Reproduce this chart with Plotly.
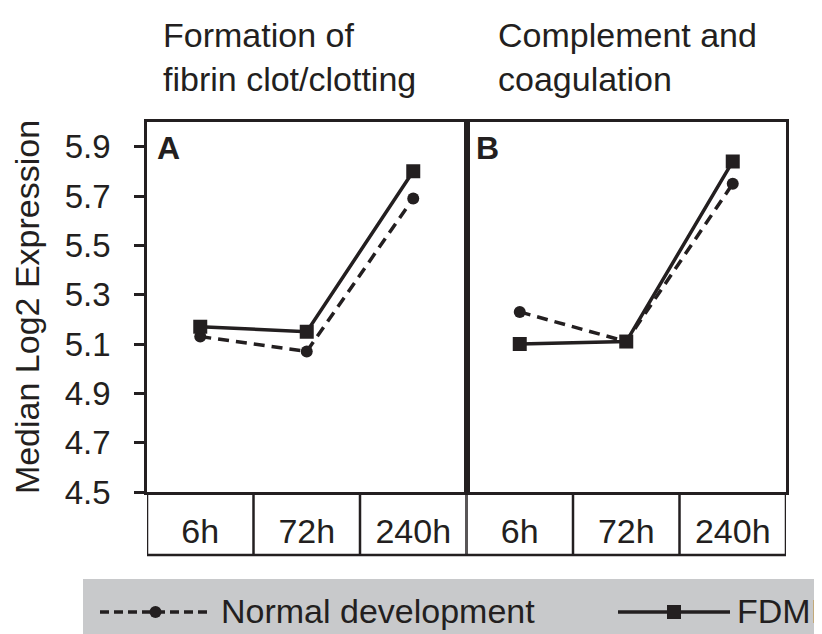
import plotly.graph_objects as go

# ---- data ----
times = ["6h", "72h", "240h"]
panel_labels = ["A", "B"]
panel_titles = ["Formation of<br>fibrin clot/clotting", "Complement and<br>coagulation"]
series_names = ["Normal development", "FDMI"]
normal_A = [5.13, 5.07, 5.69]
fdmi_A = [5.17, 5.15, 5.80]
normal_B = [5.23, 5.11, 5.75]
fdmi_B = [5.10, 5.11, 5.84]
y_ticks = [4.5, 4.7, 4.9, 5.1, 5.3, 5.5, 5.7, 5.9]
y_range = [4.5, 6.0]

INK = "#231f20"
FONT = "Liberation Sans, Arial, sans-serif"
W, H = 822, 634
L, R, T, B = 139, 778, 114, 484
FS = 34


def px_x(px):
    return (px - L) / (R - L)


def px_y(py):
    return (B - py) / (B - T)


fig = go.Figure()

panels = [("x", "y", normal_A, fdmi_A), ("x2", "y2", normal_B, fdmi_B)]
for i, (xa, ya, nv, fv) in enumerate(panels):
    fig.add_trace(go.Scatter(
        x=times, y=nv, xaxis=xa, yaxis=ya, mode="lines+markers",
        name=series_names[0], showlegend=False,
        line=dict(color=INK, width=3.5, dash="11px,7px"),
        marker=dict(symbol="circle", size=12, color=INK),
    ))
    fig.add_trace(go.Scatter(
        x=times, y=fv, xaxis=xa, yaxis=ya, mode="lines+markers",
        name=series_names[1], showlegend=False,
        line=dict(color=INK, width=3.5),
        marker=dict(symbol="square", size=14, color=INK),
    ))

xaxis_common = dict(
    type="category", range=[-0.5, len(times) - 0.5],
    showline=True, mirror=True, linecolor=INK, linewidth=2.5,
    showgrid=False, zeroline=False, ticks="",
    tickfont=dict(family=FONT, size=FS, color=INK),
    ticklabelstandoff=7,
    fixedrange=True,
)
yaxis_common = dict(
    range=y_range, tickvals=y_ticks, ticktext=[f"{v:.1f}" for v in y_ticks],
    showline=True, mirror=True, linecolor=INK, linewidth=2.5,
    showgrid=False, zeroline=False,
    fixedrange=True,
)

fig.update_layout(
    width=W, height=H,
    margin=dict(l=L, r=W - R, t=T, b=H - B),
    paper_bgcolor="white", plot_bgcolor="white",
    showlegend=False,
    xaxis=dict(domain=[0, 0.5], anchor="y", **xaxis_common),
    xaxis2=dict(domain=[0.5, 1], anchor="y2", **xaxis_common),
    yaxis=dict(
        domain=[0, 1], anchor="x",
        ticks="outside", ticklen=10, tickwidth=2.5, tickcolor=INK,
        tickfont=dict(family=FONT, size=33, color=INK),
        ticklabelstandoff=17,
        title=dict(text="Median Log2 Expression",
                   font=dict(family=FONT, size=FS, color=INK), standoff=16),
        **yaxis_common,
    ),
    yaxis2=dict(domain=[0, 1], anchor="x2", matches="y", showticklabels=False,
                ticks="", **yaxis_common),
)

shapes = []
box_bottom = px_y(547)
for xr in ["x", "x2"]:
    for k in range(len(times) + 1):
        shapes.append(dict(type="line", xref=xr, yref="paper",
                           x0=k - 0.5, x1=k - 0.5, y0=box_bottom, y1=0,
                           line=dict(color=INK, width=2.5)))
shapes.append(dict(type="line", xref="paper", yref="paper",
                   x0=0, x1=1, y0=box_bottom, y1=box_bottom,
                   line=dict(color=INK, width=2.5)))

# legend panel
shapes.append(dict(type="rect", xref="paper", yref="paper",
                   x0=px_x(75), x1=px_x(840), y0=px_y(660), y1=px_y(571),
                   fillcolor="#c8c9cb", line=dict(width=0), layer="below"))
ly = px_y(604)
shapes.append(dict(type="line", xref="paper", yref="paper",
                   x0=px_x(92), x1=px_x(204), y0=ly, y1=ly,
                   line=dict(color=INK, width=3.5, dash="9px,5px")))
shapes.append(dict(type="circle", xref="paper", yref="paper",
                   x0=px_x(141.5), x1=px_x(153.5), y0=px_y(610), y1=px_y(598),
                   fillcolor=INK, line=dict(width=0)))
shapes.append(dict(type="line", xref="paper", yref="paper",
                   x0=px_x(610), x1=px_x(722), y0=ly, y1=ly,
                   line=dict(color=INK, width=3.5)))
shapes.append(dict(type="rect", xref="paper", yref="paper",
                   x0=px_x(659), x1=px_x(673), y0=px_y(611), y1=px_y(597),
                   fillcolor=INK, line=dict(width=0)))
fig.update_layout(shapes=shapes)

annotations = []
annotations.append(dict(text=series_names[0], xref="paper", yref="paper",
                        x=px_x(211), y=px_y(603), xanchor="left", yanchor="middle",
                        showarrow=False, font=dict(family=FONT, size=FS, color=INK)))
annotations.append(dict(text=series_names[1], xref="paper", yref="paper",
                        x=px_x(727), y=px_y(603), xanchor="left", yanchor="middle",
                        showarrow=False, font=dict(family=FONT, size=FS, color=INK)))
for i, xr in enumerate(["x", "x2"]):
    annotations.append(dict(text=panel_labels[i], xref=xr + " domain", yref="paper",
                            x=0.025, y=px_y(140), xanchor="left", yanchor="middle",
                            showarrow=False,
                            font=dict(family=FONT, size=32, color=INK, weight="bold")))
annotations.append(dict(text=panel_titles[0], xref="paper", yref="paper",
                        x=px_x(153), y=px_y(92), xanchor="left", yanchor="bottom",
                        align="left", showarrow=False,
                        font=dict(family=FONT, size=FS, color=INK)))
annotations.append(dict(text=panel_titles[1], xref="paper", yref="paper",
                        x=px_x(488), y=px_y(92), xanchor="left", yanchor="bottom",
                        align="left", showarrow=False,
                        font=dict(family=FONT, size=FS, color=INK)))
fig.update_layout(annotations=annotations)

fig.write_html("out.html")
